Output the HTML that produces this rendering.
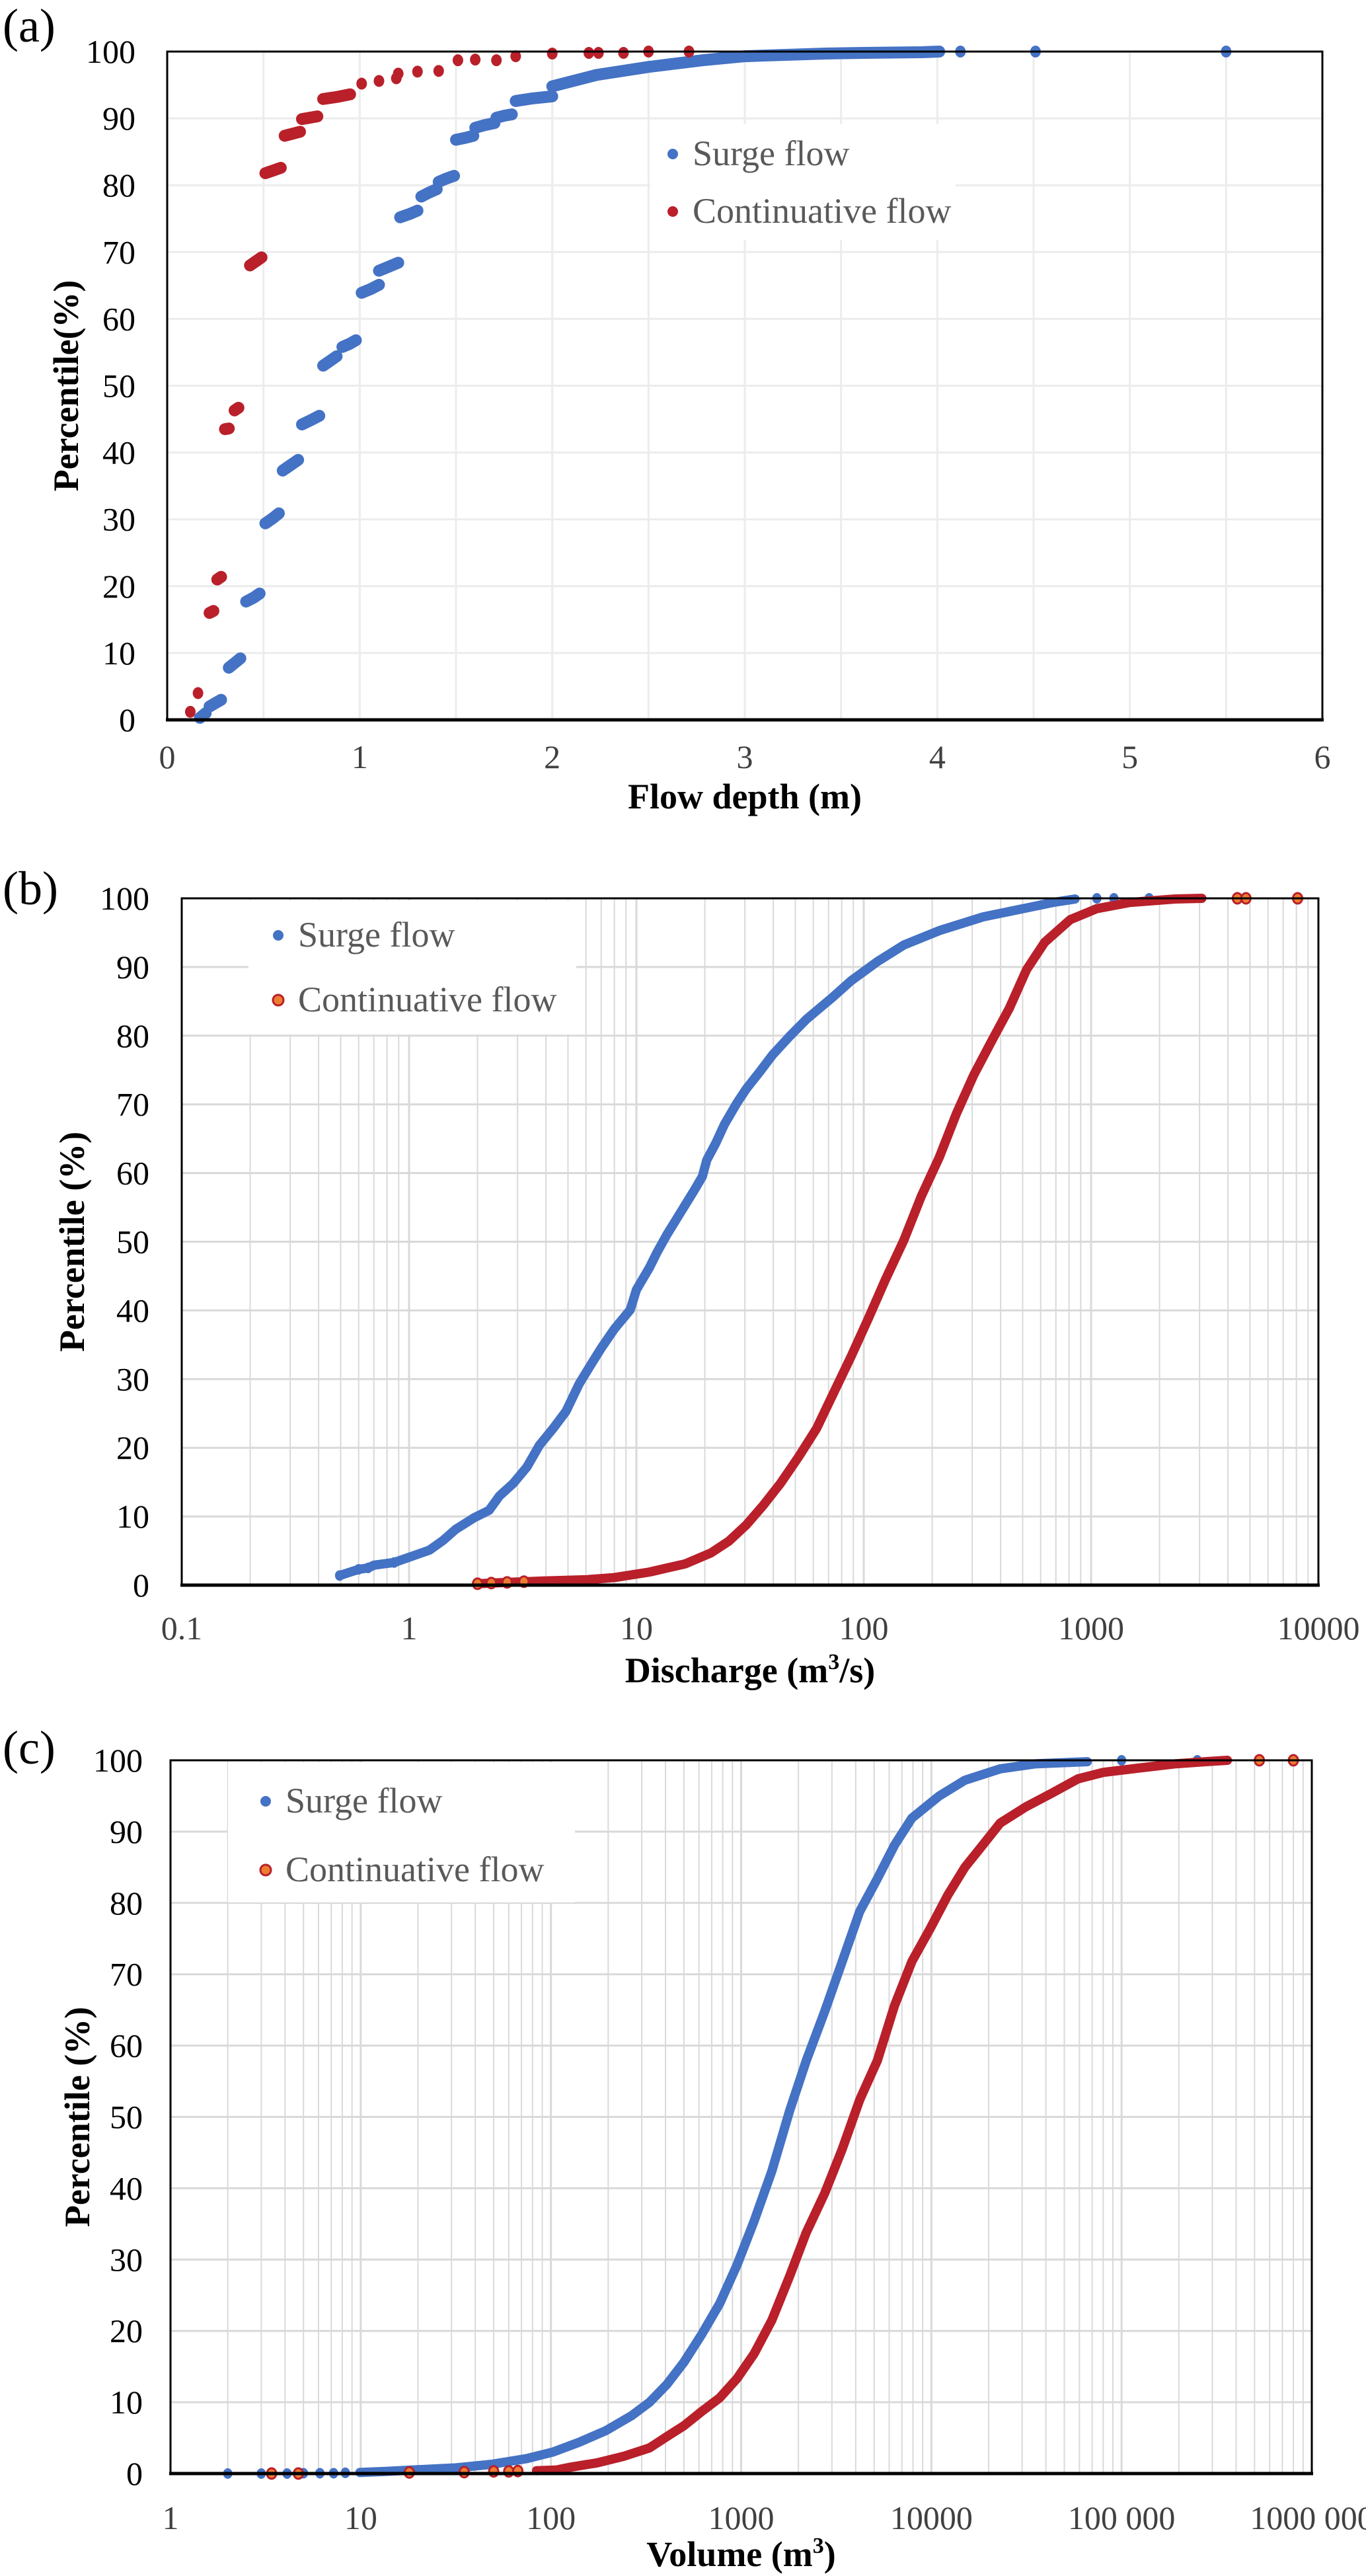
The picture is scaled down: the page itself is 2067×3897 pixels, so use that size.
<!DOCTYPE html>
<html><head><meta charset="utf-8"><style>
html,body{margin:0;padding:0;background:#fff}
svg{display:block;font-family:"Liberation Serif","Times New Roman",Times,"DejaVu Serif",serif}
svg text{font-family:"Liberation Serif","Times New Roman",Times,"DejaVu Serif",serif}
</style></head><body>
<svg id="fig" width="2067" height="3897" viewBox="0 0 2067 3897" xmlns="http://www.w3.org/2000/svg"></svg>
<script>
// ---- Data: panel (a) flow depth (m) vs percentile, clusters of points
const aSurge = [
 [[0.17,0.3],[0.2,1.0]],
 [[0.22,2.0],[0.25,2.5],[0.28,3.0]],
 [[0.32,7.8],[0.35,8.5],[0.38,9.2]],
 [[0.41,17.7],[0.45,18.3],[0.48,18.9]],
 [[0.51,29.4],[0.55,30.2],[0.58,30.9]],
 [[0.6,37.3],[0.64,38.1],[0.68,38.9]],
 [[0.7,44.2],[0.75,44.9],[0.79,45.5]],
 [[0.81,53.0],[0.85,53.8],[0.88,54.4]],
 [[0.91,55.8],[0.95,56.3],[0.98,56.8]],
 [[1.01,63.9],[1.06,64.5],[1.1,65.1]],
 [[1.1,67.2],[1.15,67.8],[1.2,68.4]],
 [[1.21,75.2],[1.26,75.7],[1.3,76.2]],
 [[1.32,78.3],[1.36,78.9],[1.4,79.4]],
 [[1.41,80.5],[1.45,81.0],[1.49,81.4]],
 [[1.5,86.8],[1.55,87.1],[1.59,87.4]],
 [[1.6,88.6],[1.65,89.0],[1.7,89.3]],
 [[1.71,90.1],[1.75,90.4],[1.79,90.6]],
 [[1.81,92.6],[1.9,93.0],[2.0,93.3]],
 [[2.0,94.8],[2.23,96.5],[2.5,97.7],[2.78,98.7],[3.0,99.3],[3.42,99.7],[3.62,99.8],[3.92,99.9],[4.01,100]],
 [[4.12,100]],[[4.51,100]],[[5.5,100]]
];
const aCont = [
 [[0.12,1.2]],[[0.16,4.0]],
 [[0.22,16.0],[0.24,16.3]],
 [[0.26,21.0],[0.28,21.4]],
 [[0.3,43.5],[0.32,43.6]],
 [[0.35,46.3],[0.37,46.7]],
 [[0.43,68.0],[0.46,68.6],[0.49,69.2]],
 [[0.51,81.8],[0.55,82.2],[0.59,82.6]],
 [[0.61,87.4],[0.65,87.7],[0.69,88.0]],
 [[0.7,89.9],[0.74,90.1],[0.78,90.3]],
 [[0.81,92.9],[0.88,93.2],[0.95,93.6]],
 [[1.01,95.2]],[[1.1,95.6]],[[1.19,96.0]],[[1.2,96.7]],[[1.3,97.0]],[[1.41,97.1]],
 [[1.51,98.7]],[[1.6,98.8]],[[1.71,98.7]],[[1.81,99.3]],[[2.0,99.7]],[[2.19,99.8]],[[2.24,99.8]],[[2.37,99.8]],[[2.5,100]],[[2.71,100]]
];
// ---- panel (b) discharge (m3/s)
const bSurgeX = [0.495,0.6,0.66,0.7,0.86,1.23,1.41,1.6,1.93,2.25,2.5,2.87,3.3,3.75,4.3,4.9,5.6,6.2,7.0,8.0,9.4,10,11.4,12.3,13.6,15.6,17.9,19.5,20.4,22.3,24.4,27.8,30.5,34.8,39.7,47.5,56,73,88,115,150,215,335,520,680,850];
const bSurgeY = [1.4,2.3,2.5,2.9,3.3,5.1,6.5,8.1,9.8,10.9,13,14.8,17.2,20.4,22.8,25.3,29.3,31.7,34.5,37.3,40.1,43,46.2,48.4,51,54.2,57.4,59.5,61.9,64.3,67.1,70.3,72.3,74.7,77.2,80,82.4,85.6,88,90.8,93.2,95.3,97.3,98.6,99.4,99.9];
const bSurgeOutX = [0.495,0.6,0.66,0.86,1060,1260,1800];
const bSurgeOutY = [1.4,2.3,2.5,3.3,100,100,100];
const bContX = [2.0,2.7,3.9,6.1,8.0,11.4,16.4,21.3,25.5,30.5,36.1,43,52,62,73,88,105,125,150,179,215,256,305,365,437,520,625,810,1060,1480,2340,3070];
const bContY = [0.2,0.4,0.6,0.8,1.1,1.9,3.1,4.7,6.4,8.8,11.6,14.8,18.8,22.8,27.7,33.3,38.9,44.6,50.2,56.6,62.3,68.7,74.3,79.2,84,89.6,93.6,96.9,98.5,99.4,99.9,100];
const bContOutX = [2.0,2.3,2.7,3.2,4400,4800,8100];
const bContOutY = [0.2,0.3,0.4,0.5,100,100,100];
// ---- panel (c) volume (m3)
const cSurgeX = [9.9,13.6,18.7,31.8,48.8,74.8,102,141,194,265,330,407,500,620,770,950,1170,1450,1800,2200,2750,3400,4200,5200,6400,7900,11000,15000,23000,35000,66000];
const cSurgeY = [0.15,0.3,0.5,0.8,1.3,2.1,3,4.4,6,8.1,10,12.5,15.6,19.5,23.8,29.2,35.4,42.4,50.9,57.9,64.8,71.8,78.8,83.4,88.1,91.9,95,97.2,98.8,99.5,99.8];
const cSurgeOutX = [2.0,3.0,4.1,5,6.1,7.2,8.3,100000,250000];
const cSurgeOutY = [0,0,0,0.05,0.05,0.05,0.1,100,100];
const cContX = [84,107,127,175,240,330,408,500,620,770,950,1170,1450,1800,2200,2750,3400,4200,5200,6400,7900,9900,12200,15000,18600,23000,31500,43000,59000,80000,122000,190000,275000,360000];
const cContY = [0.4,0.5,0.9,1.5,2.4,3.6,5.2,6.7,8.7,10.6,13.3,16.8,21.5,27.7,33.8,39.3,45.5,52.4,57.9,65.6,71.8,76.5,81.1,85,88.1,91.2,93.5,95.4,97.4,98.3,98.9,99.5,99.8,100];
const cContOutX = [3.4,4.7,18,35,50,60,67,530000,800000];
const cContOutY = [0,0,0.15,0.2,0.3,0.3,0.35,100,100];

const yTicks = [0,10,20,30,40,50,60,70,80,90,100];
const aXTicks = [0,1,2,3,4,5,6];
const bXTicks = ["0.1","1","10","100","1000","10000"];
const cXTicks = ["1","10","100","1000","10000","100 000","1000 000"];

const NS="http://www.w3.org/2000/svg";
const svg=document.getElementById('fig');
const FONT='"Liberation Serif", "Times New Roman", Times, "DejaVu Serif", serif';
function el(tag,attrs,parent){const e=document.createElementNS(NS,tag);for(const k in attrs)e.setAttribute(k,attrs[k]);if(tag==='text'){e.setAttribute('font-family',FONT);}(parent||svg).appendChild(e);return e;}
const BLUE="#4472C4", RED="#B9202A", ORANGE="#ED7D31";

function panel(cfg){
  const g=el('g',{});
  
  
  const L=cfg.L,R=cfg.R,T=cfg.T,B=cfg.B;
  const sy=v=>B-(v/100)*(B-T);
  const sx=cfg.log? (v=>L+(Math.log10(v)-cfg.lmin)/(cfg.lmax-cfg.lmin)*(R-L)) : (v=>L+(v-cfg.xmin)/(cfg.xmax-cfg.xmin)*(R-L));
  const grid=el('g',{},g);
  
  
  yTicks.forEach(v=>{ if(v>0&&v<100) el('line',{x1:L,x2:R,y1:sy(v),y2:sy(v),stroke:cfg.gc,'stroke-width':3},grid); });
  if(cfg.log){
    for(let d=cfg.lmin; d<cfg.lmax; d++){
      for(let m=1;m<10;m++){ const v=m*Math.pow(10,d); if(m===1&&d===cfg.lmin) continue;
        el('line',{x1:sx(v),x2:sx(v),y1:T,y2:B,stroke:cfg.gc,'stroke-width':m===1?3:2},grid);}
    }
  } else {
    for(let v=0.5; v<cfg.xmax; v+=0.5) el('line',{x1:sx(v),x2:sx(v),y1:T,y2:B,stroke:cfg.gc,'stroke-width':3},grid);
  }
  const lg=el('g',{},g);
  
  
  el('rect',{x:cfg.lg.x,y:cfg.lg.y,width:cfg.lg.w,height:cfg.lg.h,fill:'#fff'},lg);
  cfg.series.forEach(s=>{
    const sg=el('g',{},g);
    
    
    if(s.clusters){
      s.clusters.forEach(cl=>{
        if(cl.length>1){
          const p=el('polyline',{points:cl.map(q=>sx(q[0])+','+sy(q[1])).join(' '),fill:'none',stroke:s.color,'stroke-width':18,'stroke-linecap':'round','stroke-linejoin':'round'},sg);
          
          
        } else {
          const c=el('ellipse',{cx:sx(cl[0][0]),cy:sy(cl[0][1]),rx:8,ry:9,fill:s.color},sg);
          
          
        }
      });
    } else {
      const p=el('polyline',{points:s.x.map((v,i)=>sx(v)+','+sy(s.y[i])).join(' '),fill:'none',stroke:s.color,'stroke-width':14,'stroke-linecap':'round','stroke-linejoin':'round'},sg);
      
      
      s.ox.forEach((v,i)=>{
        const c=el('ellipse',{cx:sx(v),cy:sy(s.oy[i]),rx:7,ry:8,fill:s.fill,stroke:s.color,'stroke-width':s.fill===s.color?0:3},sg);
        
        
      });
    }
  });
  cfg.series.forEach((s,i)=>{
    const ly=cfg.lg.by[i];
    const m=el('circle',{cx:cfg.lg.mx,cy:ly-17,r:8,fill:s.fill||s.color,stroke:s.color,'stroke-width':(s.fill&&s.fill!==s.color)?3:0},lg);
    
    
    const t=el('text',{x:cfg.lg.tx,y:ly,'font-size':54,fill:'#595959'},lg);
    t.textContent=s.label;
    
    
  });
  const fr=el('rect',{x:L,y:T,width:R-L,height:B-T,fill:'none',stroke:'#000','stroke-width':3},g);
  
  
  const ax=el('line',{x1:L-2,x2:R+2,y1:B,y2:B,stroke:'#000','stroke-width':5},g);
  
  
  yTicks.forEach(v=>{
    const t=el('text',{x:cfg.ytx,y:sy(v)+17,'font-size':50,'text-anchor':'end',fill:'#000'},g);
    t.textContent=v;
    
    
  });
  cfg.xt.forEach((lab,i)=>{
    const v=cfg.log? Math.pow(10,cfg.lmin+i) : lab;
    const t=el('text',{x:sx(v),y:cfg.xty,'font-size':50,'text-anchor':'middle',fill:'#404040'},g);
    t.textContent=lab;
    
    
  });
  const xt=el('text',{x:(L+R)/2,y:cfg.xtitleY,'font-size':54,'font-weight':'bold','text-anchor':'middle',fill:'#000'},g);
  xt.innerHTML=cfg.xtitle;
  
  
  const yt=el('text',{x:0,y:0,'font-size':54,'font-weight':'bold','text-anchor':'middle',fill:'#000',transform:`translate(${cfg.ytitleX},${(T+B)/2}) rotate(-90)`},g);
  yt.textContent=cfg.ytitle;
  
  
  const pl=el('text',{x:4,y:cfg.plY,'font-size':72,fill:'#000'},g);
  pl.textContent=cfg.plabel;
  
  
}

panel({name:'panel-a-flow-depth',L:253,R:2001,T:78,B:1089,xmin:0,xmax:6,gc:'#ececec',
  series:[{name:'surge-flow-series',label:'Surge flow',color:BLUE,clusters:aSurge},
          {name:'continuative-flow-series',label:'Continuative flow',color:RED,clusters:aCont}],
  lg:{x:984,y:188,w:462,h:175,mx:1018,tx:1048,by:[250,337]},
  ytx:205,xt:aXTicks,xty:1162,xtitle:'Flow depth (m)',xtitleY:1223,ytitle:'Percentile(%)',ytitleX:118,plabel:'(a)',plY:63});

panel({name:'panel-b-discharge',L:275,R:1995,T:1359,B:2398,log:true,lmin:-1,lmax:4,gc:'#d9d9d9',
  series:[{name:'surge-flow-series',label:'Surge flow',color:BLUE,fill:BLUE,x:bSurgeX,y:bSurgeY,ox:bSurgeOutX,oy:bSurgeOutY},
          {name:'continuative-flow-series',label:'Continuative flow',color:RED,fill:ORANGE,x:bContX,y:bContY,ox:bContOutX,oy:bContOutY}],
  lg:{x:376,y:1362,w:496,h:203,mx:421,tx:451,by:[1432,1530]},
  ytx:226,xt:bXTicks,xty:2480,xtitle:'Discharge (m<tspan font-size="34" dy="-20">3</tspan><tspan dy="20">/s)</tspan>',xtitleY:2545,ytitle:'Percentile (%)',ytitleX:127,plabel:'(b)',plY:1368});

panel({name:'panel-c-volume',L:258,R:1985,T:2663,B:3742,log:true,lmin:0,lmax:6,gc:'#d9d9d9',
  series:[{name:'surge-flow-series',label:'Surge flow',color:BLUE,fill:BLUE,x:cSurgeX,y:cSurgeY,ox:cSurgeOutX,oy:cSurgeOutY},
          {name:'continuative-flow-series',label:'Continuative flow',color:RED,fill:ORANGE,x:cContX,y:cContY,ox:cContOutX,oy:cContOutY}],
  lg:{x:345,y:2666,w:525,h:212,mx:402,tx:432,by:[2742,2846]},
  ytx:216,xt:cXTicks,xty:3826,xtitle:'Volume (m<tspan font-size="34" dy="-20">3</tspan><tspan dy="20">)</tspan>',xtitleY:3882,ytitle:'Percentile (%)',ytitleX:135,plabel:'(c)',plY:2668});
</script>
</body></html>
